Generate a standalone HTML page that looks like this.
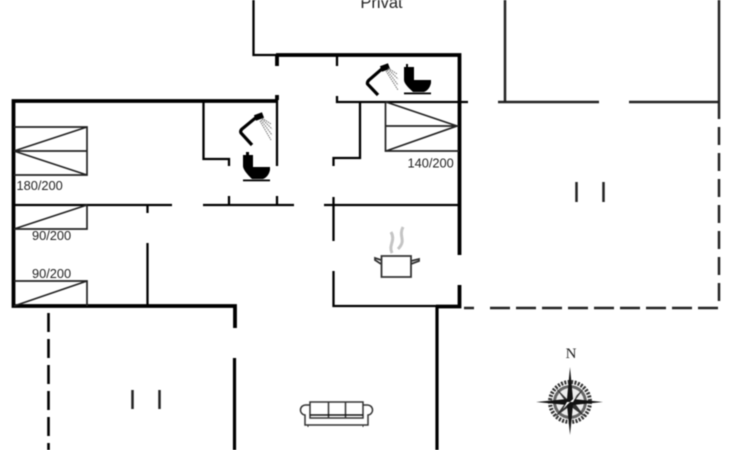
<!DOCTYPE html>
<html><head><meta charset="utf-8"><style>
html,body{margin:0;padding:0;background:#fff;width:730px;height:450px;overflow:hidden}
svg{display:block;filter:blur(.5px)}
text{font-family:"Liberation Sans",sans-serif;fill:#222}
</style></head><body>
<svg width="730" height="450" viewBox="0 0 730 450" xmlns="http://www.w3.org/2000/svg">
<g fill="none" stroke="#000" stroke-linecap="butt">
<!-- thick outer walls -->
<g stroke-width="3.8">
<path d="M277 101H13.5V306H235V328"/>
<path d="M234.500 358V450" stroke-width="3.2"/>
<path d="M276 55H459.500V255"/>
<path d="M459.500 285V306.500H436"/>
<path d="M437 306V450" stroke-width="3.2"/>
<path d="M277 55V66M277 95V100"/>
</g>
<!-- thin walls -->
<g stroke-width="2.300">
<path d="M253.500 0V55H277"/>
<path d="M13 205H172M203 205H294M324 205H459"/>
<path d="M147.500 205V213M147.500 243V306"/>
<path d="M203.500 101V159H229V166M229 196V205"/>
<path d="M277 100V166M277 196V205"/>
<path d="M337 55V66M337 96V102H468"/>
<path d="M360 102V158H333.500V166"/>
<path d="M333.500 197V241M333.500 271V306H437"/>
</g>
<g stroke="#222" stroke-width="2.500">
<path d="M498 102H599M629 102H719M505 0V102M719 0V119"/>
<path d="M576.500 182V202M603.500 182V202"/>
<path d="M132.500 390V409M159.500 390V409"/>
<path d="M719 127V303" stroke-dasharray="18 8"/>
<path d="M464 308H474M490 308H718" stroke-dasharray="20 6"/>
</g>
<path d="M48.500 313V450" stroke-width="2.600" stroke-dasharray="19 7"/>
<!-- beds -->
<g stroke="#222" stroke-width="1.700">
<path d="M14 127H87V175H14M14 151H87M14 151L87 127M14 151L87 175"/>
<path d="M87 205V229H14M14 229L87 205"/>
<path d="M14 281H87V306M14 306L87 281"/>
<path d="M385.500 102V151H459M386 126H458M386 102L457 126L386 151"/>
</g>
<!-- showers -->
<path d="M252 145L241 133Q240 131 242 129L256 117.500" stroke-width="3.200"/>
<path d="M255 118L263 115" stroke-width="6"/>
<path d="M378 95L367.500 84Q367 82 369 80L383 68" stroke-width="3.200"/>
<path d="M381 69L389 66" stroke-width="6"/>
<g stroke="#666" stroke-width=".9" stroke-dasharray="1.500 .8">
<path d="M262 118L271 124M262 119L272 129M261 120L272 135M260 121L271 140"/>
<path d="M388 68L397 74M388 69L398 79M387 70L398 85M386 71L398 90"/>
</g>
<!-- pot -->
<g stroke="#333" stroke-width="1.800">
<path d="M381.500 256H411V277H381.500Z"/>
<path d="M381 264L375 260V258L381 260M411 264L419 261V259L411 261"/>
</g>
<path d="M392 253C388 245 396 241 391 232" stroke="#c4c4c4" stroke-width="3"/>
<path d="M398 249C407 240 398 237 403 227" stroke="#c4c4c4" stroke-width="3"/>
<!-- sofa -->
<g stroke="#333" stroke-width="1.500">
<path d="M310 402H363V418H310ZM328.500 402V418M345.500 402V418"/>
<path d="M310 415H363" stroke="#111"/>
<path d="M310 405H306A5 5 0 0 0 305 415V425H368V415A5 5 0 0 0 367 405H363"/>
<path d="M308 425V427M363 425V427" stroke-width="1"/>
</g>
</g>
<!-- toilets -->
<g fill="#000">
<path d="M246 152H249V155H253V167H270V170C269 175 266 178 263 179H252C249 176 243 170 243 166V155H246Z"/>
<rect x="243" y="179.500" width="27" height="1.800"/>
<path d="M406 64H408V67H414V80H431V83C430 88 427 91 424 92H413C410 89 404 84 404 80V67H406Z"/>
<rect x="404" y="92.500" width="27" height="1.800"/>
</g>
<!-- compass -->
<g>
<circle cx="570" cy="402" r="20" fill="none" stroke="#333" stroke-width="4" stroke-dasharray="2 1.400"/>
<circle cx="570" cy="402" r="17" fill="#666"/>
<circle cx="570" cy="402" r="14" fill="#eee"/>
<path d="M570 402L585 387L574 402L585 417L570 406L555 417L566 402L555 387Z" fill="#333"/>
<path d="M570 367L573 399L603 402L573 405L570 435L567 405L536 402L567 399Z" fill="#111"/>
<path d="M570 402L577 395L573 402ZM570 402L563 409L567 402Z" fill="#fff"/>
</g>
<text x="571" y="358" text-anchor="middle" font-size="15" style="font-family:'Liberation Serif',serif;fill:#222">N</text>
<text x="381.500" y="8" text-anchor="middle" font-size="16.500">Privat</text>
<text x="16.500" y="190" font-size="12.800">180/200</text>
<text x="32" y="240" font-size="12.800">90/200</text>
<text x="32" y="278" font-size="12.800">90/200</text>
<text x="407.500" y="167.500" font-size="12.800">140/200</text>
</svg>
</body></html>
